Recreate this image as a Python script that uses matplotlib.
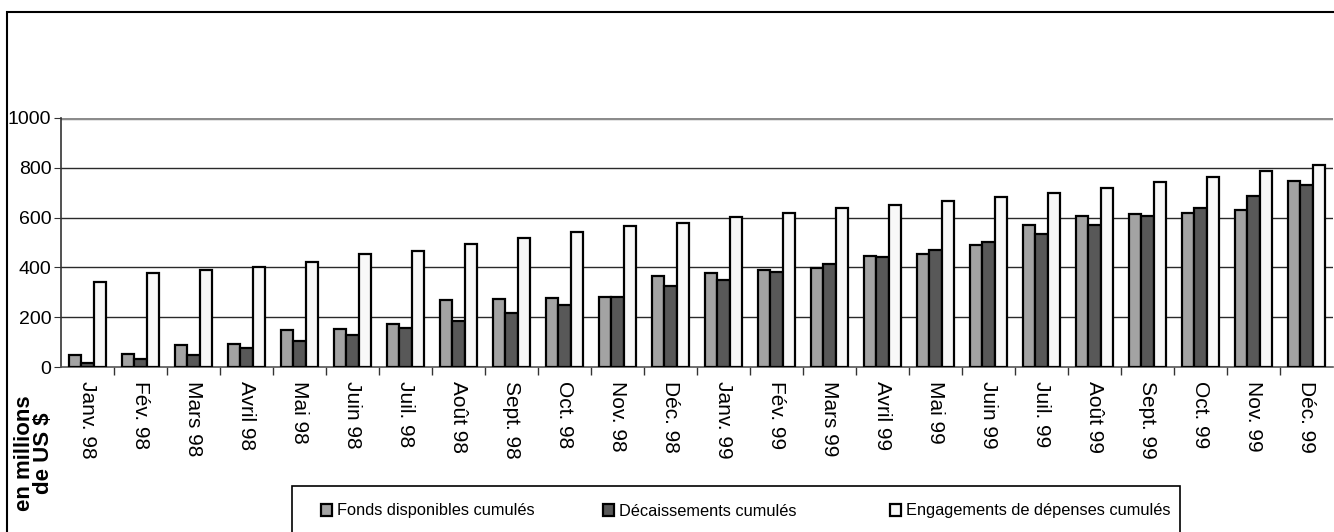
import matplotlib
matplotlib.use("Agg")
import numpy as np
import matplotlib.pyplot as plt
from matplotlib.patches import Rectangle

plt.rcParams["font.family"] = ["Liberation Sans", "DejaVu Sans"]

months = [
    "Janv. 98", "Fév. 98", "Mars 98", "Avril 98", "Mai 98", "Juin 98",
    "Juil. 98", "Août 98", "Sept. 98", "Oct. 98", "Nov. 98", "Déc. 98",
    "Janv. 99", "Fév. 99", "Mars 99", "Avril 99", "Mai 99", "Juin 99",
    "Juil. 99", "Août 99", "Sept. 99", "Oct. 99", "Nov. 99", "Déc. 99",
]
fonds = [47, 54, 90, 94, 150, 154, 174, 268, 274, 277, 280, 364,
         379, 388, 398, 447, 454, 490, 569, 608, 614, 617, 632, 746]
decaissements = [16, 33, 50, 76, 103, 128, 157, 186, 217, 249, 282, 324,
                 349, 380, 414, 442, 471, 502, 535, 572, 605, 639, 685, 732]
engagements = [341, 377, 388, 402, 423, 454, 466, 495, 519, 543, 568, 577,
               601, 617, 637, 652, 668, 683, 700, 719, 742, 764, 788, 813]
series_names = ["Fonds disponibles cumulés", "Décaissements cumulés",
                "Engagements de dépenses cumulés"]

W, H = 1334, 532
fig = plt.figure(figsize=(W / 100, H / 100), dpi=100)
ax = fig.add_axes([61 / W, (H - 367) / H, (1333 - 61) / W, 249 / H])

x = np.arange(len(months))
bw = 0.23
kw = dict(width=bw, edgecolor="black", linewidth=1.6, zorder=3)
b1 = ax.bar(x - bw, fonds, color="#a3a3a3", label=series_names[0], **kw)
b2 = ax.bar(x, decaissements, color="#585858", label=series_names[1], **kw)
b3 = ax.bar(x + bw, engagements, color="#f8f8f8", label=series_names[2], **kw)

ax.set_xlim(-0.5, len(months) - 0.5)
ax.set_ylim(0, 1000)
ax.set_yticks(range(0, 1001, 200))
for v in range(200, 1000, 200):
    ax.axhline(v, color="#2a2a2a", linewidth=1, zorder=1)
ax.axhline(1000, color="#8c8c8c", linewidth=2.5, zorder=1)

for side in ("top", "right"):
    ax.spines[side].set_visible(False)
ax.spines["left"].set_color("#333333")
ax.spines["bottom"].set_color("#555555")
ax.spines["left"].set_linewidth(1.2)
ax.spines["bottom"].set_linewidth(1.2)

ax.set_xticks(x)
ax.set_xticklabels(months, rotation=270, fontsize=15, va="top", ha="center")
ax.tick_params(axis="x", which="major", length=0, pad=10)
ax.set_xticks(x[:-1] + 0.5, minor=True)
ax.tick_params(axis="x", which="minor", length=6, color="#333333", width=1)
ax.tick_params(axis="y", length=5, color="#333333", labelsize=14, pad=2)

fig.text(34 / W, (H - 453) / H, "en millions\nde US $", rotation=90,
         fontsize=16, fontweight="bold", ha="center", va="center",
         linespacing=0.85)

# outer frame of the figure and the legend box (both run past the edge)
fig.add_artist(Rectangle((7 / W, -0.2), 1.1, 1.2 - 12 / H,
                         transform=fig.transFigure, fill=False,
                         edgecolor="black", linewidth=1.5, clip_on=False))
fig.add_artist(Rectangle((292 / W, -0.2), (1180 - 292) / W, 0.2 + (H - 486) / H,
                         transform=fig.transFigure, fill=False,
                         edgecolor="black", linewidth=1.2, clip_on=False))

# one legend entry per series, spaced like the original legend box
for handle, x0 in zip([b1, b2, b3], [321, 603, 890]):
    fig.legend(handles=[handle], loc="center left",
               bbox_to_anchor=(x0 / W, (H - 511) / H), frameon=False,
               fontsize=11.8, handlelength=0.7, handleheight=0.7,
               handletextpad=0.25, borderpad=0, borderaxespad=0)

fig.savefig("out.png", dpi=100)
